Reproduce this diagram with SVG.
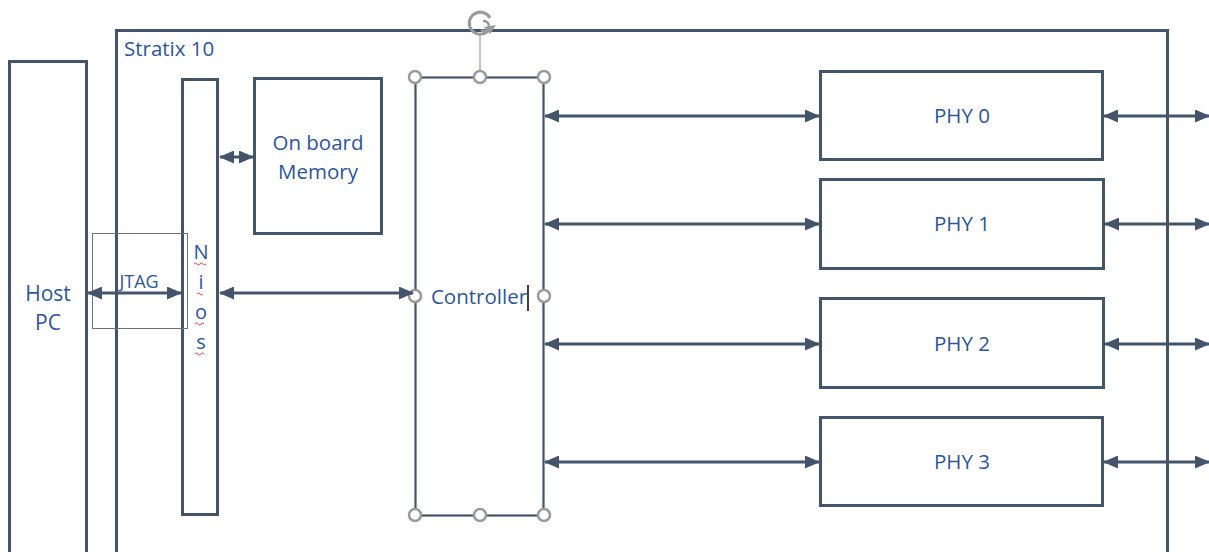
<svg xmlns="http://www.w3.org/2000/svg" width="1209" height="552" viewBox="0 0 1209 552">
<style>
.box{fill:none;stroke:#44546a;stroke-width:3}
.t{font-family:"Open Sans","Liberation Sans",sans-serif;fill:#2f5597}
.c{stroke:#44546a;stroke-width:3;fill:none;marker-start:url(#ah);marker-end:url(#ah)}
.h{fill:#fff;stroke:#9a9a9a;stroke-width:2.5}
.sq{fill:none;stroke:#e03030;stroke-width:0.9}
</style>
<defs>
<marker id="ah" viewBox="0 0 15 13" refX="14" refY="6.5" markerWidth="15" markerHeight="13" markerUnits="userSpaceOnUse" orient="auto-start-reverse">
<path d="M0,0 L15,6.5 L0,13 Z" fill="#44546a"/>
</marker>
</defs>
<rect width="1209" height="552" fill="#fff"/>
<g id="host">
<rect class="box" x="9.5" y="61.5" width="77" height="500"/>
<text class="t" x="48" y="301" font-size="21" text-anchor="middle">Host</text>
<text class="t" x="48" y="330" font-size="21" text-anchor="middle">PC</text>
</g>
<g id="stratix">
<rect class="box" x="116.5" y="30.5" width="1051" height="540"/>
<text class="t" x="124" y="56" font-size="20.5">Stratix 10</text>
</g>
<g id="nios">
<rect class="box" x="182.5" y="79.5" width="35" height="435"/>
<text class="t" x="201" y="259" font-size="20" text-anchor="middle">N</text>
<text class="t" x="201" y="289" font-size="20" text-anchor="middle">i</text>
<text class="t" x="201" y="319" font-size="20" text-anchor="middle">o</text>
<text class="t" x="201" y="349" font-size="20" text-anchor="middle">s</text>
<path class="sq" d="M194,264 q1.5,-2 3,0 t3,0 t3,0 t3,0 M197,294 q1.5,-2 3,0 t3,0 M195,324 q1.5,-2 3,0 t3,0 t3,0 M195,354 q1.5,-2 3,0 t3,0 t3,0"/>
</g>
<g id="memory">
<rect class="box" x="254.5" y="78.5" width="127" height="155"/>
<text class="t" x="318" y="150" font-size="20.5" text-anchor="middle">On board</text>
<text class="t" x="318" y="179" font-size="20.5" text-anchor="middle">Memory</text>
</g>
<g id="jtag">
<rect x="92.5" y="233.5" width="95" height="95" fill="none" stroke="#707070" stroke-width="1"/>
<text class="t" x="139" y="288" font-size="18" text-anchor="middle">JTAG</text>
</g>
<g id="controller">
<rect x="415.5" y="77.5" width="128" height="438" fill="none" stroke="#44546a" stroke-width="2.2"/>
<text class="t" x="479" y="304" font-size="20.5" text-anchor="middle">Controller</text>
<line x1="528" y1="285" x2="528" y2="311" stroke="#000" stroke-width="1.5"/>
<line x1="480" y1="36" x2="480" y2="71" stroke="#b0b0b0" stroke-width="1.5"/>
<circle class="h" cx="415" cy="77" r="6"/>
<circle class="h" cx="480" cy="77" r="6"/>
<circle class="h" cx="544" cy="77" r="6"/>
<circle class="h" cx="415" cy="296" r="6"/>
<circle class="h" cx="544" cy="296" r="6"/>
<circle class="h" cx="415" cy="515" r="6"/>
<circle class="h" cx="480" cy="515" r="6"/>
<circle class="h" cx="544" cy="515" r="6"/>
<path d="M488,31 A11,11 0 1 1 490,18" fill="none" stroke="#9a9a9a" stroke-width="3"/>
<path d="M483,21 A5,5 0 1 1 481,30" fill="none" stroke="#9a9a9a" stroke-width="2.5"/>
<path d="M484,27 L496,25 L490,34 Z" fill="#9a9a9a"/>
</g>
<g id="phy0"><rect class="box" x="820.5" y="71.5" width="282" height="88"/><text class="t" x="962" y="123" font-size="20.5" text-anchor="middle">PHY 0</text></g>
<g id="phy1"><rect class="box" x="820.5" y="179.5" width="283" height="89"/><text class="t" x="962" y="231" font-size="20.5" text-anchor="middle">PHY 1</text></g>
<g id="phy2"><rect class="box" x="820.5" y="298.5" width="283" height="89"/><text class="t" x="962" y="351" font-size="20.5" text-anchor="middle">PHY 2</text></g>
<g id="phy3"><rect class="box" x="820.5" y="417.5" width="282" height="88"/><text class="t" x="962" y="469" font-size="20.5" text-anchor="middle">PHY 3</text></g>
<g id="connectors">
<line class="c" x1="88" y1="293" x2="181" y2="293"/>
<line class="c" x1="220" y1="157" x2="253" y2="157"/>
<line class="c" x1="220" y1="293" x2="413" y2="293"/>
<line class="c" x1="545" y1="116" x2="819" y2="116"/>
<line class="c" x1="545" y1="224" x2="819" y2="224"/>
<line class="c" x1="545" y1="344" x2="819" y2="344"/>
<line class="c" x1="545" y1="462" x2="819" y2="462"/>
<line class="c" x1="1104" y1="116" x2="1209" y2="116"/>
<line class="c" x1="1105" y1="224" x2="1209" y2="224"/>
<line class="c" x1="1105" y1="344" x2="1209" y2="344"/>
<line class="c" x1="1104" y1="462" x2="1209" y2="462"/>
</g>
</svg>
